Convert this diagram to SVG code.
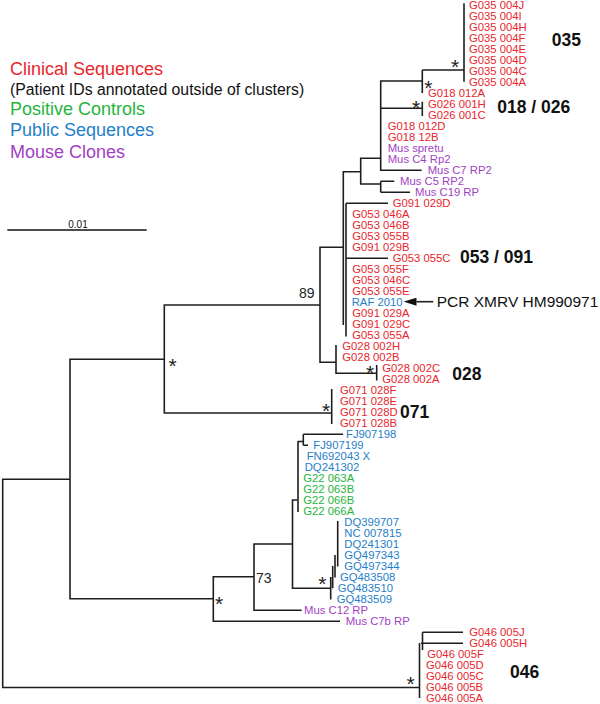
<svg xmlns="http://www.w3.org/2000/svg" width="600" height="704" viewBox="0 0 600 704">
<style>
text{font-family:"Liberation Sans",Arial,sans-serif}
.l{font-size:11.3px}
.r{fill:#e8262d}.g{fill:#25b53c}.b{fill:#1f80c8}.p{fill:#a13fc4}
.k{font-size:17.5px;font-weight:bold;fill:#111}
.s{font-size:21px;fill:#222;text-anchor:middle}
.n{font-size:14px;fill:#222}
.e{fill:none;stroke:#1e1e1e;stroke-width:1.6}
.lg{font-size:18px}
</style>
<defs>
<marker id="ah" viewBox="0 0 13 8" refX="0" refY="4" markerWidth="13" markerHeight="8" markerUnits="userSpaceOnUse" orient="auto">
<path d="M0,0 L13,4 L0,8 Z" fill="#111"/>
</marker>
</defs>
<rect width="600" height="704" fill="#fff"/>
<g id="legend">
<text class="lg r" x="10" y="75">Clinical Sequences</text>
<text x="10" y="94.5" style="font-size:15.8px;fill:#111">(Patient IDs annotated outside of clusters)</text>
<text class="lg g" x="10" y="115.2">Positive Controls</text>
<text class="lg b" x="10" y="136.4">Public Sequences</text>
<text class="lg p" x="10" y="158">Mouse Clones</text>
</g>
<g id="scale">
<line x1="7.3" y1="230" x2="146.7" y2="230" stroke="#111" stroke-width="1.6"/>
<text x="78" y="228.3" style="font-size:10px;fill:#111" text-anchor="middle">0.01</text>
</g>
<g id="connectors" class="e">
<path d="M70,479.3 H2.7 V687.5 H419.5"/>
<path d="M165,359.3 H70 V598.7 H213.3"/>
<path d="M320,305 H164.3 V413 H331.7"/>
<path d="M343.3,247.3 H320 V362.3 H336"/>
<path d="M336,345 V373.3 H376.7"/>
<path d="M376.7,365 V380.5"/>
<path d="M331.7,389 V424"/>
<path d="M360.7,171.7 H343.3 V325"/>
<path d="M346,203.3 V336.5"/>
<path d="M346,203.3 H388 M346,258.3 H388"/>
<path d="M380.7,158.3 H360.7 V184 H380.7"/>
<path d="M422.3,81 H380.7 V170.3 H421.7"/>
<path d="M380.7,181.3 V192.3 M380.7,181.3 H394.3 M380.7,192.3 H410"/>
<path d="M422.3,70 V93 M422.3,70 H464"/>
<path d="M464,3.3 V81.7"/>
<path d="M380.7,108.3 H422.3 M422.3,101.7 V116"/>
<path d="M254,576.7 H213.3 V621.3 H340"/>
<path d="M292.5,544 H254 V610.3 H301.7"/>
<path d="M297.5,500 H292.5 V588.3 H330.7"/>
<path d="M330.7,577 V599.5 M332.7,566 V588.3 M335,555 V577.5 M337.7,521 V566.5"/>
<path d="M298,441 V512 M298,441.5 H303.3 M303.3,434.3 V445.3 M303.3,434.3 H343 M303.3,445.3 H308"/>
<path d="M419.5,643 V698 M422.5,632.3 V650 M422.5,632.3 H463 M421,643.3 H463"/>
<path d="M433.3,301.7 H416.5" marker-end="url(#ah)"/>
</g>
<g id="support">
<text class="s" x="455" y="73.7">*</text>
<text class="s" x="428.3" y="94.5">*</text>
<text class="s" x="416" y="114.7">*</text>
<text class="s" x="370" y="380.3">*</text>
<text class="s" x="326" y="418">*</text>
<text class="s" x="172.7" y="373">*</text>
<text class="s" x="219" y="611.3">*</text>
<text class="s" x="322.3" y="591">*</text>
<text class="s" x="410.7" y="691">*</text>
<text class="n" x="314.5" y="298.3" text-anchor="end">89</text>
<text class="n" x="256" y="583.3">73</text>
</g>
<g id="cluster-035">
<text class="l r" x="469" y="9.4">G035 004J</text>
<text class="l r" x="469" y="20.4">G035 004I</text>
<text class="l r" x="469" y="31.4">G035 004H</text>
<text class="l r" x="469" y="42.4">G035 004F</text>
<text class="l r" x="469" y="53.4">G035 004E</text>
<text class="l r" x="469" y="64.4">G035 004D</text>
<text class="l r" x="469" y="75.4">G035 004C</text>
<text class="l r" x="469" y="86.4">G035 004A</text>
<text class="k" x="551.7" y="46.3">035</text>
</g>
<g id="cluster-018-026">
<text class="l r" x="428" y="97.4">G018 012A</text>
<text class="l r" x="428" y="108.4">G026 001H</text>
<text class="l r" x="428" y="119.4">G026 001C</text>
<text class="l r" x="387.7" y="130.4">G018 012D</text>
<text class="l r" x="387.7" y="141.4">G018 12B</text>
<text class="k" x="497.3" y="113">018 / 026</text>
</g>
<g id="mouse-upper">
<text class="l p" x="387.7" y="152.4">Mus spretu</text>
<text class="l p" x="387.7" y="163.4">Mus C4 Rp2</text>
<text class="l p" x="427.7" y="174.4">Mus C7 RP2</text>
<text class="l p" x="400" y="185.4">Mus C5 RP2</text>
<text class="l p" x="415" y="196.4">Mus C19 RP</text>
</g>
<g id="cluster-053-091">
<text class="l r" x="392.7" y="207.4">G091 029D</text>
<text class="l r" x="352.3" y="218.4">G053 046A</text>
<text class="l r" x="352.3" y="229.4">G053 046B</text>
<text class="l r" x="352.3" y="240.4">G053 055B</text>
<text class="l r" x="352.3" y="251.4">G091 029B</text>
<text class="l r" x="392.7" y="262.4">G053 055C</text>
<text class="l r" x="352.3" y="273.4">G053 055F</text>
<text class="l r" x="352.3" y="284.4">G053 046C</text>
<text class="l r" x="352.3" y="295.4">G053 055E</text>
<text class="l b" x="351.7" y="306.4">RAF 2010</text>
<text class="l r" x="352.3" y="317.4">G091 029A</text>
<text class="l r" x="352.3" y="328.4">G091 029C</text>
<text class="l r" x="352.3" y="339.4">G053 055A</text>
<text class="k" x="460" y="263.3">053 / 091</text>
<text x="436.7" y="306.9" style="font-size:15.5px;fill:#111">PCR XMRV HM990971</text>
</g>
<g id="cluster-028">
<text class="l r" x="342.3" y="350.4">G028 002H</text>
<text class="l r" x="342.3" y="361.4">G028 002B</text>
<text class="l r" x="382.3" y="372.4">G028 002C</text>
<text class="l r" x="382.3" y="383.4">G028 002A</text>
<text class="k" x="452.3" y="380">028</text>
</g>
<g id="cluster-071">
<text class="l r" x="340" y="394.4">G071 028F</text>
<text class="l r" x="340" y="405.4">G071 028E</text>
<text class="l r" x="340" y="416.4">G071 028D</text>
<text class="l r" x="340" y="427.4">G071 028B</text>
<text class="k" x="400" y="418.3">071</text>
</g>
<g id="public-controls">
<text class="l b" x="346" y="438.4">FJ907198</text>
<text class="l b" x="313.3" y="449.4">FJ907199</text>
<text class="l b" x="306.7" y="460.4">FN692043 X</text>
<text class="l b" x="304.7" y="471.4">DQ241302</text>
<text class="l g" x="303.3" y="482.4">G22 063A</text>
<text class="l g" x="303.3" y="493.4">G22 063B</text>
<text class="l g" x="303.3" y="504.4">G22 066B</text>
<text class="l g" x="303.3" y="515.4">G22 066A</text>
<text class="l b" x="344.3" y="526.4">DQ399707</text>
<text class="l b" x="344.3" y="537.4">NC 007815</text>
<text class="l b" x="344.3" y="548.4">DQ241301</text>
<text class="l b" x="344.3" y="559.4">GQ497343</text>
<text class="l b" x="344.3" y="570.4">GQ497344</text>
<text class="l b" x="340" y="581.4">GQ483508</text>
<text class="l b" x="337.7" y="592.4">GQ483510</text>
<text class="l b" x="336.7" y="603.4">GQ483509</text>
</g>
<g id="mouse-lower">
<text class="l p" x="304" y="614.4">Mus C12 RP</text>
<text class="l p" x="345.7" y="625.4">Mus C7b RP</text>
</g>
<g id="cluster-046">
<text class="l r" x="469.3" y="636.4">G046 005J</text>
<text class="l r" x="469.3" y="647.4">G046 005H</text>
<text class="l r" x="427.3" y="658.4">G046 005F</text>
<text class="l r" x="426" y="669.4">G046 005D</text>
<text class="l r" x="426" y="680.4">G046 005C</text>
<text class="l r" x="426" y="691.4">G046 005B</text>
<text class="l r" x="426" y="702.4">G046 005A</text>
<text class="k" x="510" y="677.7">046</text>
</g>
</svg>
